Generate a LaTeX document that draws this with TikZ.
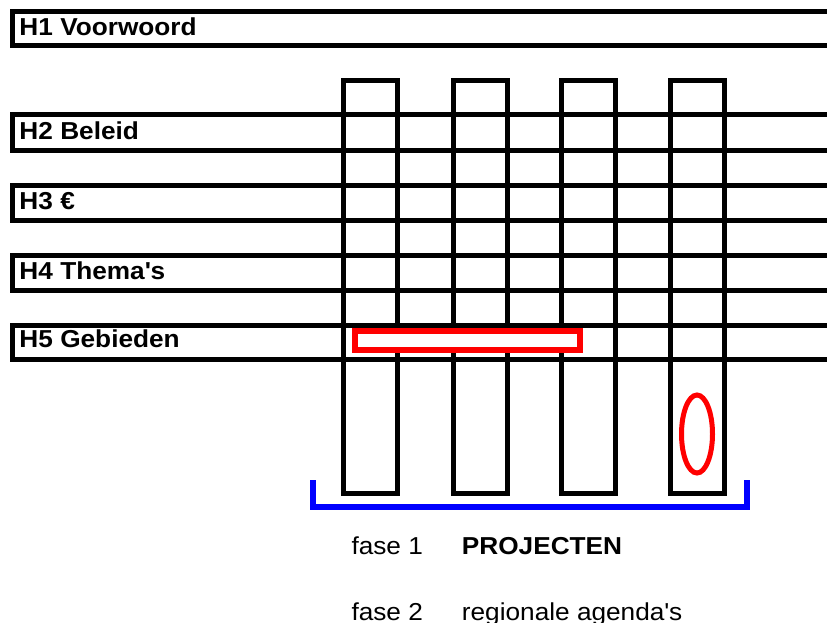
\documentclass[tikz,border=0pt]{standalone}
\usepackage{fontspec}
\setmainfont{Liberation Sans}[FakeStretch=1.07]
\usetikzlibrary{matrix}

\begin{document}
\begin{tikzpicture}[x=1pt,y=-1pt,line width=5pt,
  kop/.style={font=\bfseries\fontsize{24.5}{24.5}\selectfont,anchor=base west,inner sep=0pt}]
\useasboundingbox (0,0) rectangle (827,622);
\foreach \t/\b in {11/45,114/150,185/220,255/290,325/359}
  \draw (840,\t) -| (12,\b) -- (840,\b);
\node[kop] (h1) at (17,35) {H1 Voorwoord};
\node[kop] (h2) at (17,139) {H2 Beleid};
\node[kop] (h3) at (17,209) {H3 €};
\node[kop] (h4) at (17,279) {H4 Thema\textquotesingle s};
\node[kop] (h5) at (17,347) {H5 Gebieden};
\foreach \x in {343,453,561,670}
  \draw (\x,80) rectangle ++(54.5,413);
\draw[red,line width=6pt,fill=white] (355,331) rectangle (580,350);
\draw[red] (697,434) ellipse [x radius=15.5,y radius=39];
\draw[blue,line width=5.5pt] (313,480) |- (747,507) -- (747,480);
\matrix (m)[matrix of nodes,anchor=north west,inner sep=0pt,column sep=39pt,row sep=48pt,
  nodes={anchor=base west,inner sep=0pt,text height=18pt,text depth=0pt,font=\fontsize{24.5}{24.5}\selectfont}] at (349,534) {
fase 1 & \textbf{PROJECTEN}\\
fase 2 & regionale agenda\textquotesingle s\\
};
\end{tikzpicture}
\end{document}
